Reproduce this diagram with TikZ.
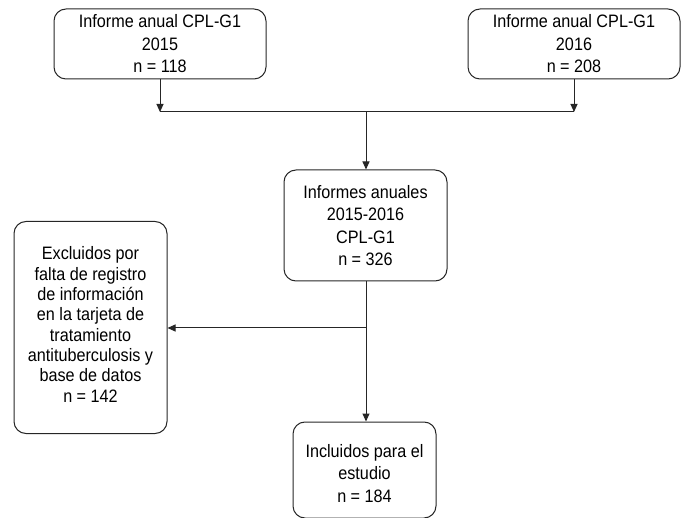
\documentclass[tikz,border=0pt]{standalone}
\usepackage{fontspec}
\setmainfont{Liberation Sans}[FakeStretch=0.9]
\usetikzlibrary{arrows.meta}
\begin{document}
\begin{tikzpicture}[x=1pt,y=-1pt,
  box/.style={draw=black!85, line width=1pt, rounded corners=12pt, align=center,
    font=\fontsize{18}{22.5}\selectfont, inner sep=2pt},
  txt/.style={align=center, inner sep=0pt},
  arr/.style={draw=black!85, line width=1pt, -{Triangle[length=8pt,width=7pt]}},
  ln/.style={draw=black!85, line width=1pt}]
\useasboundingbox (0,0) rectangle (688,518);
\node[box, minimum width=212pt, minimum height=70pt] (b1) at (160,44) {Informe anual CPL-G1\\2015\\n = 118};
\node[box, minimum width=212pt, minimum height=70pt] (b2) at (574,44) {Informe anual CPL-G1\\2016\\n = 208};
\node[box, minimum width=163pt, minimum height=111pt] (b3) at (365.5,225.5) {Informes anuales\\2015-2016\\CPL-G1\\n = 326};
\node[box, minimum width=153pt, minimum height=212pt] (b5) at (90.5,327.5) {};
\node[txt, font=\fontsize{18}{20.3}\selectfont] (b5t) at (90.5,324.5) {Excluidos por\\falta de registro\\de información\\en la tarjeta de\\tratamiento\\antituberculosis y\\base de datos\\n = 142};
\node[box, minimum width=143pt, minimum height=96pt] (b4) at (364.5,470) {};
\node[txt, font=\fontsize{18}{22.5}\selectfont] (b4t) at (364.5,473.5) {Incluidos para el\\estudio\\n = 184};
\coordinate (c1) at (160,112);
\coordinate (c2) at (574,112);
\coordinate (cj) at (366,112);
\coordinate (cb) at (366,328);
\draw[arr] (b1.south -| c1) -- (c1);
\draw[ln] (c1) -- (c2);
\draw[arr] (b2.south -| c2) -- (c2);
\draw[arr] (cj) -- (cj |- b3.north);
\draw[arr] (b3.south -| cj) -- (cj |- b4.north);
\draw[arr] (cb) -- (b5.east |- cb);
\end{tikzpicture}
\end{document}
